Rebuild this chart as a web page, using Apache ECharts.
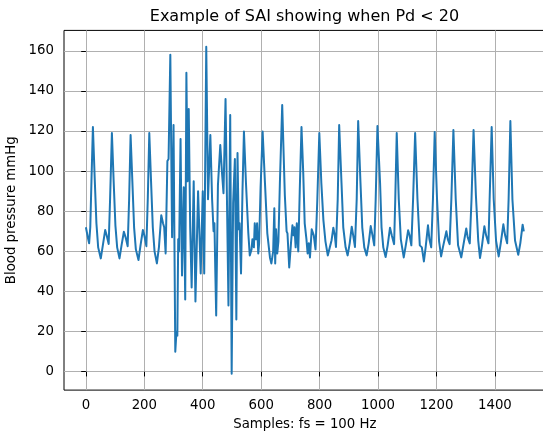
<!DOCTYPE html>
<html><head><meta charset="utf-8">
<script src="https://cdn.jsdelivr.net/npm/echarts@6/dist/echarts.min.js"></script>
<style>html,body{margin:0;padding:0;background:#fff}#c{width:543px;height:434px}</style>
</head><body><div id="c"></div>
<script>
// Sample index (x) and blood pressure in mmHg (y)
const sampleIdx = [
0,4,8,11,15,19,24,30,36,42,51,58,66,71,78,83,89,95,101,107,115,122,130,136,143,148,153,159,165,171,180,187,195,200,207,212,217,223,229,235,243,250,258,264,268,273,
279,283,289,295,300,306,310,313,316,319,324,329,335,340,344,348,352,357,362,369,375,384,393,400,405,412,418,426,432,437,440,443,446,452,460,466,471,478,488,494,499,504,510,515,519,523,526,531,536,
541,548,556,561,567,570,575,578,582,586,590,593,598,605,613,621,630,635,641,645,648,651,655,659,664,672,681,687,690,696,702,707,711,714,718,722,727,732,738,744,749,755,759,763,767,773,780,786,792,799,
806,813,820,828,833,841,847,852,856,862,867,875,881,889,896,903,910,915,921,927,932,940,946,953,961,968,975,981,987,992,998,1007,1012,1018,1026,1033,1041,1047,1055,1059,1064,
1071,1078,1088,1095,1103,1108,1114,1120,1127,1135,1143,1150,1157,1163,1171,1176,1182,1188,1194,1202,1209,1216,1222,1234,1239,1245,1251,1258,1266,1274,1285,1292,1302,1307,1314,1320,1327,
1335,1343,1349,1356,1364,1370,1378,1382,1389,1396,1404,1413,1420,1429,1435,1442,1447,1453,1460,1469,1480,1487,1495,1499
];
const pressure = [
72,71.5,66,64,72,95,122,97,74,62,56.5,63,70.6,68,63.7,87,119,95,73,62,56.5,63,69.8,67,62.6,86,118,95,72,61,55.7,63,70.6,68,62.6,87,119,95,72,60,54,62,78,74,72,59,
105,106,158,67,123,10,20,18,66,60,116,48,92,36,149,95,131,72,42,95,35,90,49,90,49,162,86,118,86,70,74,50,28,93,113,99,89,136,33,128,-1,84,106,26,109,71,74,49,90,
119.7,94,69,58,61,66,62,74,66,74,59,64,92,119.7,94,69,57,54,60,81.5,54,71,59,65,94,133,88,70,69,52,64,73,68,72,62,74,60,90,122,99,74,66,59,64,57,71,68,61,85,119,
94,75.6,65,58,57.2,65.6,71.8,68,62.2,86,123,94,72,62,58,64,72.3,68,62.2,86,125,94,72,62,58,64,72.6,68,63,86,122.5,94,72,62,57.2,63,71.8,68,63.6,86,119,
86,66,57,63,70.5,68,63,86,119,86,63,62,55,62,73,66,62,86,119.5,86,65,57.5,62,70,66,63.6,86,120.5,86,63,57,63,71.4,67,64,86,120.5,
88,65.4,56.7,63,72.5,68,64,86,122,86,65.4,57.5,64,73.5,68,64,86,125,86,65.4,58.3,64,73.3,70
];
const xTicks = [0,200,400,600,800,1000,1200,1400];
const yTicks = [0,20,40,60,80,100,120,140,160];

const chart = echarts.init(document.getElementById('c'), null, {renderer:'canvas'});
const seriesData = sampleIdx.map((s, i) => [s, pressure[i]]);
const font = 'DejaVu Sans';
const plain = v => String(v);
const option = {
  animation: false,
  backgroundColor: '#ffffff',
  grid: {left: 64, top: 30.4, width: 481.7, height: 359.7, show: true, borderColor: '#000', borderWidth: 1, backgroundColor: 'transparent', containLabel: false, outerBoundsMode: 'none'},
  xAxis: {
    type: 'value', min: -74.95, max: 1573.95, minInterval: 200, maxInterval: 200, splitNumber: 8,
    axisLine: {show: false},
    axisTick: {show: true, length: 4.7, lineStyle: {color: '#000', width: 1}, customValues: xTicks},
    axisLabel: {customValues: xTicks, formatter: plain, margin: 9, color: '#000', fontSize: 13.3, fontFamily: font},
    splitLine: {show: true, lineStyle: {color: '#b0b0b0', width: 1}},
    name: 'Samples: fs = 100 Hz', nameLocation: 'middle', nameGap: 28,
    nameTextStyle: {color: '#000', fontSize: 13.3, fontFamily: font}
  },
  yAxis: {
    type: 'value', min: -9.15, max: 170.15, minInterval: 20, maxInterval: 20, splitNumber: 9,
    axisLine: {show: false},
    axisTick: {show: true, length: 4.7, lineStyle: {color: '#000', width: 1}, customValues: yTicks},
    axisLabel: {customValues: yTicks, formatter: plain, margin: 10, color: '#000', fontSize: 13.3, fontFamily: font},
    splitLine: {show: true, lineStyle: {color: '#b0b0b0', width: 1}},
    name: 'Blood pressure mmHg', nameLocation: 'middle', nameGap: 38, nameRotate: 90,
    nameTextStyle: {color: '#000', fontSize: 13.3, fontFamily: font}
  },
  graphic: [{
    type: 'text', x: 304.5, y: 16.5,
    style: {text: 'Example of SAI showing when Pd < 20', font: '16px "DejaVu Sans"', fill: '#000', align: 'center', verticalAlign: 'middle'}
  }],
  series: [{
    type: 'line', data: seriesData, showSymbol: false, symbol: 'none',
    lineStyle: {color: '#1f77b4', width: 2, join: 'round'}, z: 3
  }]
};
chart.setOption(option);
</script>
</body></html>
